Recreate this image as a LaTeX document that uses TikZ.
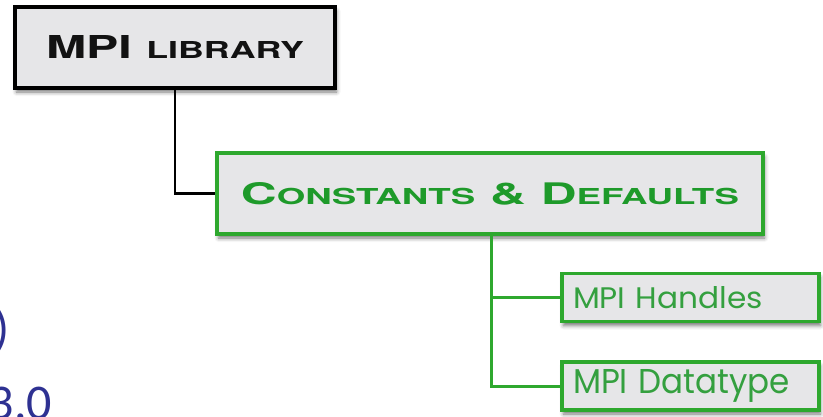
\documentclass[tikz,border=0pt]{standalone}
\usepackage{fontspec}
\usepackage{graphicx}
\usetikzlibrary{shadows.blur}
\newfontfamily\headfont{TeX Gyre Heros}
\newfontfamily\boxfont{Poppins}
\newfontfamily\slidefont{Carlito}
\definecolor{boxgray}{HTML}{E6E6E8}
\definecolor{grnline}{HTML}{2EA82E}
\definecolor{grntext}{HTML}{1E9A2A}
\definecolor{grnsmall}{HTML}{34A03F}
\definecolor{slideblue}{HTML}{2E3192}
\definecolor{darktext}{HTML}{121212}
\newcommand{\bigc}[1]{{\fontsize{30}{30}\selectfont #1}}
\newcommand{\smc}[1]{{\fontsize{22.2}{22.2}\selectfont #1}}
\newcommand{\gap}{\hspace{9pt}}
\begin{document}
\begin{tikzpicture}[x=1pt,y=-1pt,
  boxshadow/.style={blur shadow={shadow xshift=1.5pt,shadow yshift=-4pt,shadow blur radius=4pt,shadow opacity=55}},
  rootbox/.style={draw=black, line width=3.2pt, fill=boxgray, boxshadow,
    minimum width=320pt, minimum height=81pt, inner sep=0pt, text=darktext},
  headbox/.style={draw=grnline, line width=3.2pt, fill=boxgray, boxshadow,
    minimum width=546pt, minimum height=81pt, inner sep=0pt, text=grntext},
  leafbox/.style={draw=grnline, line width=3.2pt, fill=boxgray, boxshadow,
    text width=235pt, align=left, inner xsep=11pt, inner ysep=0pt,
    minimum height=48pt, text=grnsmall},
  blackline/.style={draw=black, line width=2.8pt},
  greenline/.style={draw=grnline, line width=3pt},
  slidetext/.style={text=slideblue, inner sep=0pt, font=\slidefont\fontsize{50}{50}\selectfont}
]
\useasboundingbox (0,0) rectangle (823,417);
\clip (0,0) rectangle (823,417);

% fragments of the slide behind the diagram
\node[slidetext, anchor=base east] (paren) at (10,345) {)};
\node[slidetext, anchor=base east] (ver) at (52.5,419) {3.0};

% boxes
\node[rootbox] (lib) at (175,47.5)
  {\resizebox{258pt}{23pt}{\headfont\bfseries \bigc{MPI}\gap\smc{LIBRARY}}};
\node[headbox] (cd) at (490,193.5)
  {\resizebox{498pt}{22pt}{\headfont\bfseries \bigc{C}\smc{ONSTANTS}\gap\bigc{\&}\gap\bigc{D}\smc{EFAULTS}}};
\node[leafbox] (h) at (690.5,297.5)
  {\resizebox{190pt}{22pt}{\boxfont MPI Handles}};
\node[leafbox] (d) at (690.5,386)
  {\resizebox{217pt}{24pt}{\boxfont MPI Datatype}};

% connectors
\coordinate (jx) at (491,0);
\draw[blackline] (lib.south) |- (cd.west);
\draw[greenline] (cd.south -| jx) |- (h.west);
\draw[greenline] (cd.south -| jx) |- (d.west);
\end{tikzpicture}
\end{document}
